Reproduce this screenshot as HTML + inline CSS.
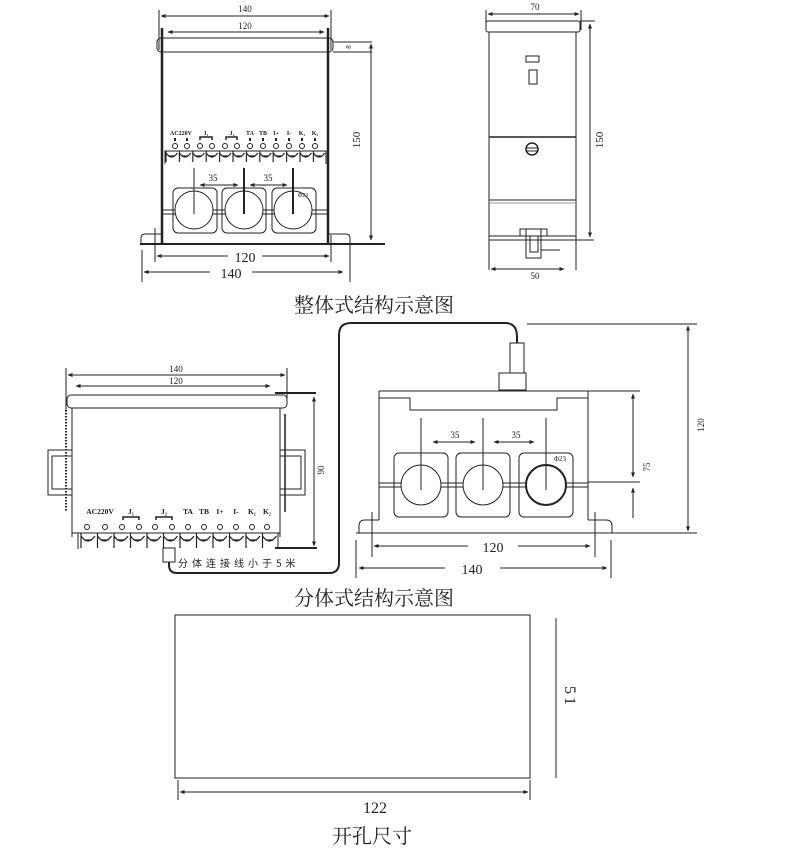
<!DOCTYPE html>
<html><head><meta charset="utf-8"><style>
html,body{margin:0;padding:0;background:#fff}
svg{display:block}
text{font-family:"Liberation Serif","Noto Serif CJK SC",serif;fill:#222}
.s{font-family:"Liberation Sans",sans-serif;font-weight:bold}
.cj{font-family:"WenQuanYi Zen Hei","Noto Sans CJK SC",sans-serif}
</style></head><body>
<svg width="800" height="853" viewBox="0 0 800 853" xmlns="http://www.w3.org/2000/svg">
<defs>
<marker id="a" viewBox="0 0 10 10" refX="9" refY="5" markerWidth="7" markerHeight="5" orient="auto-start-reverse"><path d="M0,1 L10,5 L0,9z" fill="#222"/></marker>
<pattern id="sc1" x="165" y="151" width="13.4" height="11" patternUnits="userSpaceOnUse"><path d="M1,2 q5.7,8 11.4,0 M3,5 h7 M1,0 v11" stroke="#222" fill="none" stroke-width="1.2"/></pattern>
<pattern id="sc2" x="80" y="533" width="16.5" height="15" patternUnits="userSpaceOnUse"><path d="M1,3 q7,10 14,0 M4,7 h8 M1,0 v15" stroke="#222" fill="none" stroke-width="1.2"/></pattern>
</defs>
<g stroke="#222" fill="none" stroke-width="1">
<!-- ===== TOP LEFT ===== -->
<line x1="159" y1="10" x2="159" y2="50"/><line x1="331" y1="10" x2="331" y2="50"/>
<line x1="161" y1="16" x2="329" y2="16" marker-start="url(#a)" marker-end="url(#a)"/>
<line x1="168" y1="32" x2="324" y2="32" marker-start="url(#a)" marker-end="url(#a)"/>
<rect x="157" y="38" width="176" height="14" rx="4"/>
<line x1="162" y1="28" x2="162" y2="243" stroke-width="2.5"/>
<line x1="328" y1="28" x2="328" y2="243" stroke-width="2.5"/>
<line x1="333" y1="42" x2="372" y2="42"/><line x1="333" y1="52" x2="372" y2="52"/>
<line x1="371" y1="44" x2="371" y2="240" marker-start="url(#a)" marker-end="url(#a)"/>
<path d="M165,164 V151 H326 V164"/>
<rect x="165" y="151" width="161" height="11" fill="url(#sc1)" stroke="none"/>
<g>
<circle cx="175" cy="146" r="2.5"/><circle cx="187" cy="146" r="2.5"/><circle cx="200" cy="146" r="2.5"/><circle cx="212" cy="146" r="2.5"/><circle cx="225" cy="146" r="2.5"/><circle cx="237" cy="146" r="2.5"/><circle cx="250" cy="146" r="2.5"/><circle cx="263" cy="146" r="2.5"/><circle cx="276" cy="146" r="2.5"/><circle cx="289" cy="146" r="2.5"/><circle cx="302" cy="146" r="2.5"/><circle cx="315" cy="146" r="2.5"/>
</g>
<g fill="#222" stroke="none">
<rect x="174" y="138" width="2" height="3"/><rect x="186" y="138" width="2" height="3"/><rect x="249" y="138" width="2" height="3"/><rect x="262" y="138" width="2" height="3"/><rect x="275" y="138" width="2" height="3"/><rect x="288" y="138" width="2" height="3"/><rect x="301" y="138" width="2" height="3"/><rect x="314" y="138" width="2" height="3"/>
</g>
<path d="M200,140 v-3 h12 v3 M226,140 v-3 h11 v3" stroke-width="1.5"/>
<rect x="173" y="188" width="44" height="45" rx="5"/>
<rect x="222" y="188" width="44" height="45" rx="5"/>
<rect x="272" y="188" width="44" height="45" rx="5"/>
<line x1="163" y1="210" x2="327" y2="210"/><line x1="163" y1="214" x2="327" y2="214"/>
<circle cx="194" cy="210" r="19" fill="#fff"/><circle cx="244" cy="210" r="19" fill="#fff"/><circle cx="293" cy="210" r="19" fill="#fff"/>
<line x1="194" y1="168" x2="194" y2="214"/><line x1="244" y1="168" x2="244" y2="214" stroke-width="2"/><line x1="293" y1="168" x2="293" y2="214" stroke-width="2"/>
<line x1="200" y1="185" x2="238" y2="185" marker-end="url(#a)" marker-start="url(#a)"/>
<line x1="250" y1="185" x2="287" y2="185" marker-end="url(#a)" marker-start="url(#a)"/>
<line x1="140" y1="244" x2="385" y2="244" stroke-width="2"/>
<path d="M141,244 v-6 q0,-4 4,-4 h17"/><path d="M328,234 h18 q4,0 4,4 v6"/>
<line x1="155" y1="228" x2="155" y2="262"/><line x1="331" y1="235" x2="331" y2="262"/>
<line x1="142" y1="250" x2="142" y2="282"/><line x1="350" y1="240" x2="350" y2="282"/>
<line x1="157" y1="256" x2="228" y2="256" marker-start="url(#a)"/><line x1="262" y1="256" x2="329" y2="256" marker-end="url(#a)"/>
<line x1="144" y1="272" x2="210" y2="272" marker-start="url(#a)"/><line x1="252" y1="272" x2="343" y2="272" marker-end="url(#a)"/>

<!-- ===== SIDE VIEW ===== -->
<line x1="486" y1="10" x2="486" y2="30"/><line x1="581" y1="10" x2="581" y2="30"/>
<line x1="488" y1="14" x2="579" y2="14" marker-start="url(#a)" marker-end="url(#a)"/>
<rect x="486" y="21" width="94" height="11" rx="2"/>
<line x1="489" y1="32" x2="489" y2="270"/><line x1="576" y1="32" x2="576" y2="270"/>
<rect x="526" y="56" width="13" height="6"/><rect x="529" y="70" width="8" height="14"/>
<line x1="489" y1="137" x2="576" y2="137" stroke-width="1.5"/>
<circle cx="532" cy="149" r="6" stroke-width="1.5"/><line x1="526" y1="148" x2="538" y2="148"/><line x1="526" y1="151" x2="538" y2="151"/>
<line x1="489" y1="200" x2="576" y2="200"/><line x1="489" y1="203" x2="576" y2="203" stroke="#999"/>
<line x1="489" y1="236" x2="576" y2="236"/><line x1="489" y1="240" x2="594" y2="240"/>
<path d="M520,236 v-7 h27 v7 M526,229 v29 h15 v-29 M530,236 v16 h8 v-16 M541,250 h19"/>
<line x1="580" y1="21" x2="595" y2="21"/>
<line x1="590" y1="24" x2="590" y2="237" marker-start="url(#a)" marker-end="url(#a)"/>
<line x1="491" y1="269" x2="564" y2="269" marker-start="url(#a)" marker-end="url(#a)"/>

<!-- ===== SPLIT LEFT ===== -->
<line x1="66" y1="368" x2="66" y2="410"/><line x1="287" y1="368" x2="287" y2="400"/>
<line x1="68" y1="375" x2="285" y2="375" marker-start="url(#a)" marker-end="url(#a)"/>
<line x1="76" y1="386" x2="270" y2="386" marker-start="url(#a)" marker-end="url(#a)"/>
<rect x="67" y="395" width="220" height="13" rx="4"/>
<line x1="275" y1="393" x2="316" y2="393" stroke-width="2"/>
<line x1="72" y1="408" x2="72" y2="537"/><line x1="280" y1="408" x2="280" y2="537"/>
<line x1="66" y1="410" x2="66" y2="512" stroke-dasharray="1.5,1.5" stroke-width="2"/>
<line x1="285" y1="414" x2="285" y2="512" stroke-width="1.5"/>
<rect x="48" y="450" width="24" height="45"/><rect x="52" y="456" width="20" height="33"/>
<rect x="280" y="450" width="25" height="45"/><rect x="280" y="456" width="21" height="33"/>
<line x1="314" y1="397" x2="314" y2="546" marker-start="url(#a)" marker-end="url(#a)"/>
<line x1="275" y1="548" x2="317" y2="548" stroke-width="2"/>
<line x1="72" y1="533" x2="280" y2="533"/>
<path d="M78,549 v-16 M278,549 v-16"/>
<rect x="80" y="533" width="198" height="15" fill="url(#sc2)" stroke="none"/>
<g>
<circle cx="87" cy="527" r="2.5"/><circle cx="105" cy="527" r="2.5"/><circle cx="122" cy="527" r="2.5"/><circle cx="139" cy="527" r="2.5"/><circle cx="155" cy="527" r="2.5"/><circle cx="172" cy="527" r="2.5"/><circle cx="188" cy="527" r="2.5"/><circle cx="204" cy="527" r="2.5"/><circle cx="220" cy="527" r="2.5"/><circle cx="236" cy="527" r="2.5"/><circle cx="252" cy="527" r="2.5"/><circle cx="267" cy="527" r="2.5"/>
</g>
<path d="M123,520 v-3 h16 v3 M156,520 v-3 h16 v3" stroke-width="1.5"/>
<rect x="163" y="548" width="12" height="14"/>
<path d="M169,562 v3 q0,8 8,8 h152 q10,0 10,-10 V335 q0,-12 12,-12 H505 q12,0 12,14 v6" stroke-width="2"/>
<rect x="510" y="343" width="14" height="30"/>
<rect x="499" y="373" width="27" height="17"/>

<!-- ===== SENSOR RIGHT ===== -->
<line x1="527" y1="324" x2="697" y2="324"/>
<line x1="688" y1="326" x2="688" y2="531" marker-start="url(#a)" marker-end="url(#a)"/>
<line x1="379" y1="391" x2="640" y2="391"/>
<path d="M379,391 V520 M588,391 V520"/>
<path d="M379,398 H410 V410 H557 V398 H588"/>
<line x1="633" y1="394" x2="633" y2="477" marker-start="url(#a)" marker-end="url(#a)"/>
<line x1="633" y1="488" x2="633" y2="518" marker-start="url(#a)"/>
<line x1="588" y1="482" x2="640" y2="482"/>
<rect x="394" y="453" width="54" height="64" rx="5"/>
<rect x="456" y="453" width="54" height="64" rx="5"/>
<rect x="519" y="453" width="54" height="64" rx="5"/>
<line x1="379" y1="483" x2="588" y2="483"/><line x1="379" y1="487" x2="588" y2="487"/>
<circle cx="421" cy="485" r="20" fill="#fff"/><circle cx="483" cy="485" r="20" fill="#fff"/><circle cx="546" cy="485" r="20" fill="#fff" stroke-width="2"/>
<line x1="421" y1="418" x2="421" y2="490"/><line x1="483" y1="418" x2="483" y2="490"/><line x1="546" y1="418" x2="546" y2="490"/>
<line x1="433" y1="442" x2="475" y2="442" marker-start="url(#a)" marker-end="url(#a)"/>
<line x1="494" y1="442" x2="534" y2="442" marker-start="url(#a)" marker-end="url(#a)"/>
<path d="M379,520 h-14 q-6,0 -6,6 v7 M588,520 h18 q6,0 6,6 v7"/>
<line x1="356" y1="533" x2="697" y2="533"/>
<line x1="372" y1="512" x2="372" y2="557"/><line x1="595" y1="512" x2="595" y2="557"/>
<line x1="356" y1="540" x2="356" y2="578"/><line x1="611" y1="540" x2="611" y2="578"/>
<line x1="374" y1="546" x2="468" y2="546" marker-start="url(#a)"/><line x1="518" y1="546" x2="590" y2="546" marker-end="url(#a)"/>
<line x1="359" y1="568" x2="445" y2="568" marker-start="url(#a)"/><line x1="500" y1="568" x2="607" y2="568" marker-end="url(#a)"/>

<!-- ===== CUTOUT ===== -->
<rect x="175" y="615" width="355" height="163"/>
<line x1="556" y1="618" x2="556" y2="778"/>
<line x1="178" y1="780" x2="178" y2="800"/><line x1="530" y1="780" x2="530" y2="800"/>
<line x1="180" y1="792" x2="528" y2="792" marker-start="url(#a)" marker-end="url(#a)"/>
</g>

<g font-size="9" text-anchor="middle">
<text x="245" y="12">140</text><text x="245" y="29">120</text>
<text x="535" y="10">70</text><text x="535" y="279">50</text>
<text x="176" y="372">140</text><text x="176" y="384">120</text>
<text x="213" y="181">35</text><text x="268" y="181">35</text>
<text x="455" y="438">35</text><text x="516" y="438">35</text>
<text transform="translate(360,140) rotate(-90)" font-size="11">150</text>
<text transform="translate(603,140) rotate(-90)" font-size="11">150</text>
<text transform="translate(324,470) rotate(-90)">90</text>
<text transform="translate(650,467) rotate(-90)">75</text>
<text transform="translate(704,425) rotate(-90)">120</text>
<text transform="translate(351,47) rotate(-90)" font-size="7">8</text>
</g>
<g font-size="14" text-anchor="middle">
<text x="245" y="262">120</text><text x="231" y="278">140</text>
<text x="493" y="552">120</text><text x="472" y="574">140</text>
<text x="375" y="813" font-size="16">122</text>
<text transform="translate(565,697) rotate(90)" font-size="16" letter-spacing="3">51</text>
</g>
<g class="s" font-size="6" text-anchor="middle">
<text x="181" y="135">AC220V</text><text x="206" y="135">J₁</text><text x="232" y="135">J₂</text>
<text x="250" y="135">TA</text><text x="263" y="135">TB</text><text x="276" y="135">I+</text><text x="289" y="135">I-</text><text x="302" y="135">K₁</text><text x="315" y="135">K₂</text>
<text x="303" y="197" font-weight="normal">Φ23</text>
</g>
<g class="s" font-size="7.5" text-anchor="middle">
<text x="100" y="514">AC220V</text><text x="131" y="514">J₁</text><text x="164" y="514">J₂</text>
<text x="188" y="514">TA</text><text x="204" y="514">TB</text><text x="220" y="514">I+</text><text x="236" y="514">I-</text><text x="252" y="514">K₁</text><text x="267" y="514">K₂</text>
<text x="560" y="461" font-size="7" font-weight="normal">Φ23</text>
</g>
<text class="cj" x="178" y="567" font-size="10" letter-spacing="4">分体连接线小于5米</text>
<g class="cj" font-size="20" text-anchor="middle" fill="#111">
<text x="374" y="312">整体式结构示意图</text>
<text x="374" y="605">分体式结构示意图</text>
<text x="372" y="843">开孔尺寸</text>
</g>
</svg>
</body></html>
